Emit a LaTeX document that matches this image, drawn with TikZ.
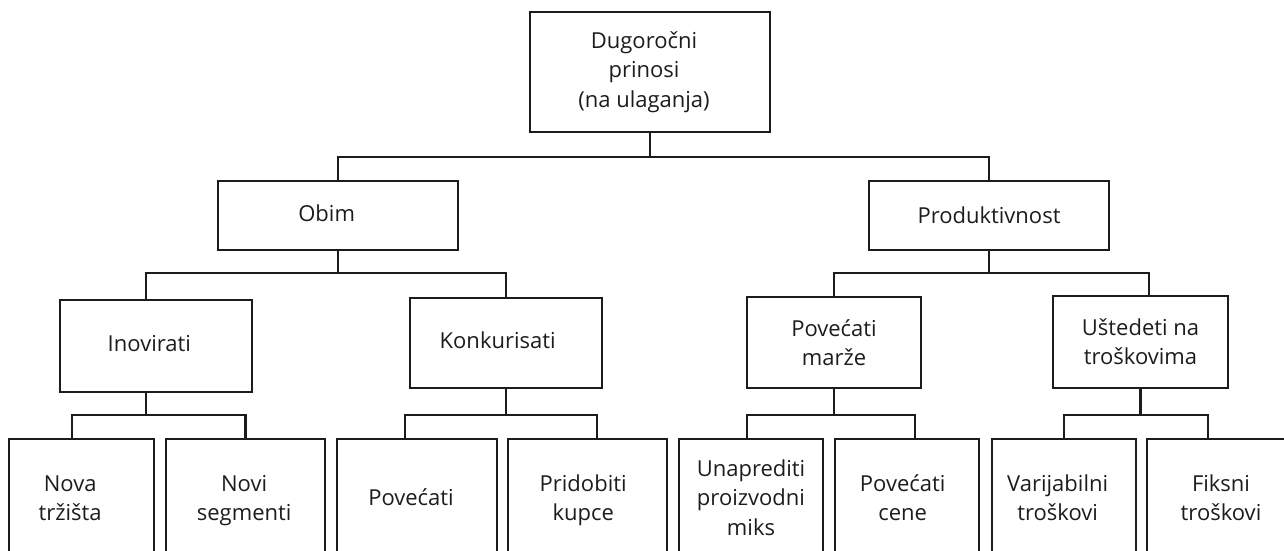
\documentclass[tikz,border=0pt]{standalone}
\usepackage{fontspec}
\setmainfont{Open Sans}
% text block moved sideways by half of #1 inside its box
\newcommand\leaftext[2]{\hspace*{#1}\begin{tabular}{@{}c@{}}#2\end{tabular}}
\begin{document}
\begin{tikzpicture}[x=0.75pt,y=-0.75pt,
  font=\fontsize{16.5}{22}\selectfont,
  box/.style={draw=ink, line width=1.6pt, text=ink, align=center, inner sep=0pt},
  leaf/.style={box, anchor=north, minimum height=91.5pt, minimum width=108pt},
  link/.style={draw=ink, line width=1.6pt}]
\definecolor{ink}{RGB}{30,27,28}
\useasboundingbox (0,0) rectangle (1284,550);
\clip (0,0) rectangle (1284,550);

% root and first level
\node[box, minimum width=180pt, minimum height=90pt] (root) at (650,72)
  {\leaftext{-9pt}{Dugoročni\\prinosi\\(na ulaganja)}};
\node[box, minimum width=180pt, minimum height=51.75pt] (obim) at (338,215.5) {\leaftext{-17pt}{Obim}};
\node[box, minimum width=180pt, minimum height=51.75pt] (prod) at (989,215.5) {Produktivnost};

% second level
\node[box, minimum width=144pt, minimum height=69pt] (inov) at (156,346) {\leaftext{-10pt}{Inovirati}};
\node[box, minimum width=144pt, minimum height=67.5pt] (konk) at (506,343) {\leaftext{-12.5pt}{Konkurisati}};
\node[box, minimum width=130.5pt, minimum height=68.25pt] (marze) at (834,342.5) {Povećati\\marže};
\node[box, minimum width=131.25pt, minimum height=69pt] (usted) at (1140.5,342) {Uštedeti na\\troškovima};

% leaves (open at the lower edge)
\node[leaf, minimum width=108.75pt] (nova) at (81.5,438) {\leaftext{-17pt}{Nova\\tržišta}};
\node[leaf, minimum width=119.25pt] (novi) at (245.5,438) {\leaftext{-2pt}{Novi\\segmenti}};
\node[leaf, minimum width=120pt] (povec) at (417,438) {\leaftext{-9pt}{Povećati}};
\node[leaf, minimum width=119.25pt] (prid) at (587.5,438) {\leaftext{-6.5pt}{Pridobiti\\kupce}};
\node[leaf] (unapr) at (751,438) {\leaftext{0pt}{Unaprediti\\proizvodni\\miks}};
\node[leaf] (cene) at (907,438) {\leaftext{-6.5pt}{Povećati\\cene}};
\node[leaf] (varij) at (1064,438) {\leaftext{-9.5pt}{Varijabilni\\troškovi}};
\node[leaf] (fiks) at (1219,438) {\leaftext{3pt}{Fiksni\\troškovi}};

% bus levels
\coordinate (bus0) at (0,157);
\coordinate (bus1) at (0,273);
\coordinate (bus2) at (0,415);

% connectors
\draw[link] (root.south) -- (root.south |- bus0) -| (obim.north);
\draw[link] (root.south |- bus0) -| (prod.north);

\draw[link] (obim.south) -- (obim.south |- bus1) -| ([xshift=-7.5pt]inov.north);
\draw[link] (obim.south |- bus1) -| (konk.north);
\draw[link] (prod.south) -- (prod.south |- bus1) -| (marze.north);
\draw[link] (prod.south |- bus1) -| ([xshift=6.4pt]usted.north);

\draw[link] ([xshift=-7.5pt]inov.south) -- ([xshift=-7.5pt]inov.south |- bus2) -| ([xshift=-7.1pt]nova.north);
\draw[link] ([xshift=-7.5pt]inov.south |- bus2) -| (novi.north);
\draw[link] (konk.south) -- (konk.south |- bus2) -| ([xshift=-9pt]povec.north);
\draw[link] (konk.south |- bus2) -| ([xshift=7.1pt]prid.north);
\draw[link] (marze.south) -- (marze.south |- bus2) -| ([xshift=-3pt]unapr.north);
\draw[link] (marze.south |- bus2) -| ([xshift=6pt]cene.north);
\draw[link] (usted.south) -- (usted.south |- bus2) -| (varij.north);
\draw[link] (usted.south |- bus2) -| ([xshift=-8.25pt]fiks.north);
\end{tikzpicture}
\end{document}
